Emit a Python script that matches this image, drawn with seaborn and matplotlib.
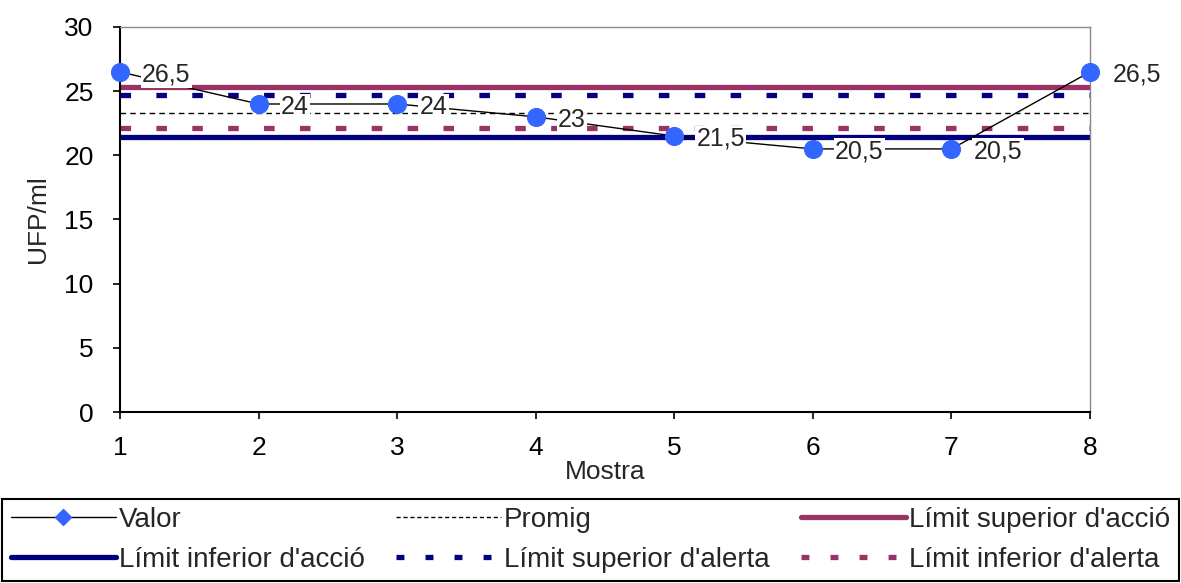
import numpy as np
import pandas as pd
import matplotlib
matplotlib.use('Agg')
import matplotlib.pyplot as plt
import seaborn as sns
from matplotlib.lines import Line2D

mostra = [1, 2, 3, 4, 5, 6, 7, 8]
valor = [26.5, 24, 24, 23, 21.5, 20.5, 20.5, 26.5]
etiquetes = ['26,5', '24', '24', '23', '21,5', '20,5', '20,5', '26,5']

promig = 23.3
lim_sup_accio = 25.3
lim_inf_accio = 21.4
lim_sup_alerta = 24.7
lim_inf_alerta = 22.1

GRANAT = '#993366'
MARI = '#000080'
BLAU = '#3366FF'

sns.set_style('white')
plt.rcParams['font.family'] = ['Liberation Sans', 'DejaVu Sans']
plt.rcParams['font.size'] = 19

fig = plt.figure(figsize=(11.81, 5.83), dpi=100)
ax = fig.add_axes([0.1016, 0.2933, 0.8214, 0.6604])

df = pd.DataFrame({'Mostra': mostra, 'Valor': valor})

# limits
LW = 3.8
ax.axhline(lim_sup_accio, color=GRANAT, lw=LW, zorder=2)
ax.axhline(lim_inf_accio, color=MARI, lw=LW, zorder=2)
ax.axhline(lim_sup_alerta, color=MARI, lw=LW, dashes=(2, 4.8), zorder=2)
ax.axhline(lim_inf_alerta, color=GRANAT, lw=LW, dashes=(2, 4.8), zorder=2)
ax.axhline(promig, color='black', lw=1, dashes=(4, 3), zorder=2)

sns.lineplot(data=df, x='Mostra', y='Valor', ax=ax, color='black', lw=1,
             marker='o', markersize=13, markerfacecolor=BLAU,
             markeredgecolor=BLAU, zorder=4, clip_on=False)

for x, y, t in zip(mostra, valor, etiquetes):
    ax.annotate(t, (x, y), xytext=(16, -2), textcoords='offset points',
                va='center', ha='left', fontsize=18, zorder=5,
                annotation_clip=False,
                bbox=dict(boxstyle='square,pad=0.05', fc='white', ec='none'))

ax.set_xlim(1, 8)
ax.set_ylim(0, 30)
ax.set_xticks(mostra)
ax.set_yticks(range(0, 31, 5))
ax.set_xlabel('Mostra', fontsize=19, labelpad=0)
ax.set_ylabel('UFP/ml', fontsize=19)
ax.yaxis.set_label_coords(-0.072, 0.5)
ax.tick_params(axis='x', direction='out', length=5, width=1.2,
               colors='black', labelsize=19, pad=12, bottom=True)
ax.tick_params(axis='y', direction='out', length=5, width=1.2,
               colors='black', labelsize=19, pad=14, left=True)
for s in ['left', 'bottom']:
    ax.spines[s].set_color('black')
    ax.spines[s].set_linewidth(1.5)
for s in ['top', 'right']:
    ax.spines[s].set_color('#888888')
    ax.spines[s].set_linewidth(1)

handles = [
    Line2D([], [], color='black', lw=1, marker='D', markersize=8,
           markerfacecolor=BLAU, markeredgecolor=BLAU),
    Line2D([], [], color=MARI, lw=LW),
    Line2D([], [], color='black', lw=1, dashes=(3, 2)),
    Line2D([], [], color=MARI, lw=LW, dashes=(1.5, 4)),
    Line2D([], [], color=GRANAT, lw=LW),
    Line2D([], [], color=GRANAT, lw=LW, dashes=(1.5, 4)),
]
labels = ['Valor', "Límit inferior d'acció", 'Promig',
          "Límit superior d'alerta", "Límit superior d'acció",
          "Límit inferior d'alerta"]
leg = fig.legend(handles, labels, ncol=3, mode='expand',
                 bbox_to_anchor=(0.002, 0.003, 0.996, 0.143),
                 loc='lower left', fontsize=20, handlelength=3.8,
                 handletextpad=0.1, fancybox=False, framealpha=1,
                 borderpad=0.3, labelspacing=0.5, borderaxespad=0)
leg.get_frame().set_edgecolor('black')
leg.get_frame().set_linewidth(1.5)

fig.savefig('out.png', dpi=100)
